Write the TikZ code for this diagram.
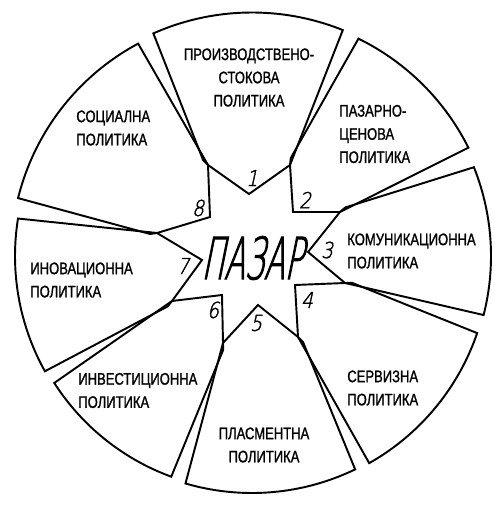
\documentclass[tikz,border=0pt]{standalone}
\usepackage{fontspec}
\usetikzlibrary{calc}
\newfontfamily\lbl{Liberation Sans}[FakeStretch=0.78, FakeBold=1.2]
\newfontfamily\hand{DejaVuSans-ExtraLight.ttf}[FakeSlant=0.2, FakeStretch=0.52, FakeBold=1.6]
\newfontfamily\handd{DejaVuSans-ExtraLight.ttf}[FakeSlant=0.22, FakeStretch=0.85, FakeBold=1.6]
% #1 start angle, #2 end angle, #3 radius, #4 next tip, #5 concave vertex, #6 previous tip
\newcommand\mysector[6]{%
  \coordinate (S) at ({252+#3*cos(#1)},{256+#3*sin(#1)});
  \draw[sec] plot[domain=#1:#2, samples=40] ({252+#3*cos(\x)},{256+#3*sin(\x)})
    -- (#4) -- (#5) -- (#6) -- ($(#6)!4pt!22:(S)$) -- cycle;}
\begin{document}
\begin{tikzpicture}[x=0.02cm, y=-0.02cm,
  sec/.style={line width=1.1pt, line join=miter},
  lab/.style={inner sep=0pt, font=\lbl\fontsize{9.5}{13.2}\selectfont},
  num/.style={inner sep=0pt, font=\handd\fontsize{12.5}{12.5}\selectfont}]
\useasboundingbox (0,0) rectangle (500,509);
% star tips
\coordinate (T12) at (290,165);
\coordinate (T23) at (340,212);
\coordinate (T34) at (345,283);
\coordinate (T45) at (298,337);
\coordinate (T56) at (223,343);
\coordinate (T67) at (172,301);
\coordinate (T78) at (157,233);
\coordinate (T81) at (208,165);
% star concave vertices
\coordinate (C1) at (249,194);
\coordinate (C2) at (293,212);
\coordinate (C3) at (308,252);
\coordinate (C4) at (295,285);
\coordinate (C5) at (258,305);
\coordinate (C6) at (222,295);
\coordinate (C7) at (202,260);
\coordinate (C8) at (210,217);
% sectors
\mysector{246.1}{291.9}{243.5}{T12}{C1}{T81}
\mysector{296.1}{333.4}{242}{T23}{C2}{T12}
\mysector{338.2}{374.3}{239}{T34}{C3}{T23}
\mysector{18.9}{60.5}{238}{T45}{C4}{T34}
\mysector{64.2}{106.3}{237}{T56}{C5}{T45}
\mysector{110.1}{147.3}{235}{T67}{C6}{T56}
\mysector{150.9}{189.1}{237}{T78}{C7}{T67}
\mysector{193.9}{241.8}{241}{T81}{C8}{T78}
% labels
\node[lab, align=center] (l1) at (249,77.5) {ПРОИЗВОДСТВЕНО-\\СТОКОВА\\ПОЛИТИКА};
\node[lab, align=left, anchor=west] (l2) at (339,134) {ПАЗАРНО-\\ЦЕНОВА\\ПОЛИТИКА};
\node[lab, align=left, anchor=west] (l3) at (347,251) {КОМУНИКАЦИОННА\\ПОЛИТИКА};
\node[lab, align=left, anchor=west] (l4) at (347,388) {СЕРВИЗНА\\ПОЛИТИКА};
\node[lab, align=center] (l5) at (264,445) {ПЛАСМЕНТНА\\ПОЛИТИКА};
\node[lab, align=left, anchor=west] (l6) at (78,390.5) {ИНВЕСТИЦИОННА\\ПОЛИТИКА};
\node[lab, align=left, anchor=west] (l7) at (30,280) {ИНОВАЦИОННА\\ПОЛИТИКА};
\node[lab, align=left, anchor=west] (l8) at (76,128) {СОЦИАЛНА\\ПОЛИТИКА};
% center word
\node[inner sep=0pt, font=\hand\fontsize{33}{33}\selectfont] (pz) at (252,258) {ПАЗАР};
% numbers
\node[num] (n1) at (252,178) {1};
\node[num] (n2) at (305,200) {2};
\node[num] (n3) at (327,250) {3};
\node[num] (n4) at (307,300) {4};
\node[num] (n5) at (256,323) {5};
\node[num] (n6) at (213,310) {6};
\node[num] (n7) at (183,266) {7};
\node[num] (n8) at (198,208) {8};
\end{tikzpicture}
\end{document}
